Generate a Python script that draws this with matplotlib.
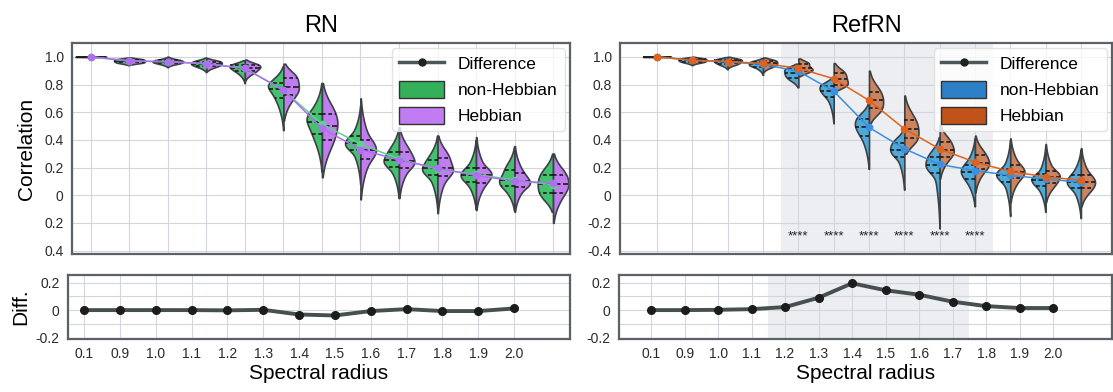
import numpy as np
import matplotlib
matplotlib.use("Agg")
import matplotlib.pyplot as plt
from matplotlib.lines import Line2D
from matplotlib.patches import Patch

plt.rcParams['font.family'] = ['Liberation Sans', 'DejaVu Sans']

radii = ['0.1', '0.9', '1.0', '1.1', '1.2', '1.3', '1.4', '1.5', '1.6', '1.7', '1.8', '1.9', '2.0']

# five-number summaries [min, q1, median, q3, max] per spectral radius
rn_nonheb = [
    [0.997, 0.999, 1.0, 1.0, 1.0],
    [0.94, 0.96, 0.97, 0.98, 0.995],
    [0.925, 0.955, 0.965, 0.975, 1.0],
    [0.89, 0.935, 0.95, 0.965, 0.995],
    [0.81, 0.895, 0.92, 0.94, 0.975],
    [0.47, 0.70, 0.77, 0.81, 0.93],
    [0.17, 0.44, 0.53, 0.59, 0.81],
    [0.08, 0.326, 0.375, 0.427, 0.65],
    [-0.02, 0.206, 0.254, 0.315, 0.49],
    [-0.10, 0.146, 0.194, 0.254, 0.43],
    [-0.10, 0.098, 0.146, 0.194, 0.40],
    [-0.11, 0.065, 0.11, 0.18, 0.35],
    [-0.12, 0.014, 0.08, 0.146, 0.30],
]
rn_heb = [
    [0.997, 0.999, 1.0, 1.0, 1.0],
    [0.945, 0.96, 0.97, 0.98, 0.995],
    [0.93, 0.955, 0.965, 0.975, 1.0],
    [0.895, 0.935, 0.95, 0.965, 0.99],
    [0.83, 0.895, 0.92, 0.94, 0.98],
    [0.54, 0.723, 0.78, 0.844, 0.95],
    [0.13, 0.40, 0.50, 0.59, 0.81],
    [-0.03, 0.26, 0.33, 0.40, 0.70],
    [-0.02, 0.20, 0.25, 0.315, 0.49],
    [-0.13, 0.14, 0.194, 0.27, 0.43],
    [-0.107, 0.09, 0.146, 0.194, 0.42],
    [-0.12, 0.06, 0.10, 0.158, 0.355],
    [-0.20, 0.014, 0.08, 0.146, 0.30],
]
ref_nonheb = [
    [0.997, 0.999, 1.0, 1.0, 1.0],
    [0.94, 0.965, 0.975, 0.985, 0.998],
    [0.91, 0.95, 0.965, 0.978, 0.998],
    [0.87, 0.93, 0.945, 0.962, 0.99],
    [0.78, 0.85, 0.88, 0.91, 0.95],
    [0.52, 0.71, 0.755, 0.79, 0.85],
    [0.19, 0.43, 0.495, 0.548, 0.66],
    [0.04, 0.278, 0.326, 0.375, 0.48],
    [-0.24, 0.16, 0.218, 0.278, 0.42],
    [-0.08, 0.115, 0.17, 0.22, 0.41],
    [-0.15, 0.097, 0.146, 0.187, 0.40],
    [-0.12, 0.065, 0.11, 0.15, 0.36],
    [-0.165, 0.05, 0.097, 0.146, 0.33],
]
ref_heb = [
    [0.997, 0.999, 1.0, 1.0, 1.0],
    [0.945, 0.965, 0.975, 0.985, 1.0],
    [0.92, 0.952, 0.967, 0.98, 1.0],
    [0.89, 0.935, 0.952, 0.97, 0.995],
    [0.86, 0.90, 0.918, 0.95, 0.988],
    [0.76, 0.80, 0.839, 0.88, 0.955],
    [0.52, 0.627, 0.687, 0.747, 0.90],
    [0.30, 0.41, 0.476, 0.543, 0.72],
    [0.12, 0.278, 0.326, 0.382, 0.51],
    [0.02, 0.187, 0.235, 0.29, 0.43],
    [-0.05, 0.122, 0.17, 0.218, 0.41],
    [-0.05, 0.086, 0.134, 0.175, 0.37],
    [-0.08, 0.05, 0.097, 0.146, 0.34],
]

# group means
rn_nonheb_mean = [1.0, 0.97, 0.965, 0.95, 0.918, 0.758, 0.515, 0.369, 0.262, 0.188, 0.150, 0.110, 0.075]
rn_heb_mean = [1.0, 0.97, 0.965, 0.95, 0.916, 0.760, 0.483, 0.330, 0.255, 0.195, 0.143, 0.103, 0.087]
ref_nonheb_mean = [1.0, 0.975, 0.964, 0.945, 0.896, 0.752, 0.490, 0.336, 0.222, 0.178, 0.143, 0.118, 0.093]
ref_heb_mean = [1.0, 0.975, 0.966, 0.952, 0.918, 0.842, 0.685, 0.480, 0.334, 0.239, 0.172, 0.133, 0.108]

sig_radii = ['1.2', '1.3', '1.4', '1.5', '1.6', '1.7']

W, H = 1113, 392
fig = plt.figure(figsize=(W / 100, H / 100), dpi=100)


def box(x0, x1, y0, y1):
    return [x0 / W, 1 - y1 / H, (x1 - x0) / W, (y1 - y0) / H]


ax_rn = fig.add_axes(box(72, 570, 43, 254))
ax_ref = fig.add_axes(box(620, 1112, 43, 254))
ax_rn_d = fig.add_axes(box(68, 570, 275, 339))
ax_ref_d = fig.add_axes(box(619, 1112, 275, 339))

spine_c = '#5c6168'
grid_c = '#d3d6da'
edge_c = '#3c4146'


def style(ax):
    ax.set_facecolor('white')
    for s in ax.spines.values():
        s.set_color(spine_c)
        s.set_linewidth(1.6)
    ax.grid(True, color=grid_c, lw=0.8)
    ax.set_axisbelow(True)
    ax.tick_params(which='both', length=0, labelsize=10, labelcolor='#2b2b2b', pad=6)


def half_violin(ax, pos, q, side, color):
    # smooth density from the quantile summary
    zk = [-2.576, -0.674, 0.0, 0.674, 2.576]
    z = np.linspace(-2.576, 2.576, 600)
    ys = np.interp(z, zk, q)
    wts = np.exp(-0.5 * z ** 2)
    h = max(0.28 * (q[3] - q[1]), 1e-4)
    g = np.linspace(q[0], q[4], 200)
    dens = (wts[None, :] * np.exp(-0.5 * ((g[:, None] - ys[None, :]) / h) ** 2)).sum(axis=1)
    w = 0.4 * dens / dens.max()
    ax.fill_betweenx(g, pos, pos + side * w, facecolor=color, edgecolor=edge_c, lw=1.2, zorder=2)
    for k, qv in enumerate(q[1:4]):
        ww = np.interp(qv, g, w)
        ls = (0, (4.5, 1.5)) if k == 1 else (0, (2.2, 1.6))
        ax.plot([pos, pos + side * ww], [qv, qv], color='#1b1b1b', lw=1.2, ls=ls, zorder=3)


def top_panel(ax, left, right, lmean, rmean, fills, lines, leg_cols, ylabels):
    style(ax)
    x = np.arange(len(radii))
    for i in x:
        half_violin(ax, i, left[i], -1, fills[0])
        half_violin(ax, i, right[i], 1, fills[1])
    ax.plot(x, lmean, color=lines[0], lw=1.1, marker='o', ms=4.5, zorder=4)
    ax.plot(x, rmean, color=lines[1], lw=1.1, marker='o', ms=4.5, zorder=4)
    ax.set_xticks(x)
    ax.set_xticklabels([])
    ax.set_yticks([1.0, 0.8, 0.6, 0.4, 0.2, 0.0, -0.2, -0.4])
    ax.set_yticklabels(ylabels)
    ax.set_ylim(-0.425, 1.1)
    handles = [
        Line2D([], [], color='#4d5659', lw=2.5, marker='o', ms=5, mfc='#222222', mec='#222222'),
        Patch(facecolor=leg_cols[0], edgecolor='#333333'),
        Patch(facecolor=leg_cols[1], edgecolor='#333333'),
    ]
    ax.legend(handles, ['Difference', 'non-Hebbian', 'Hebbian'], loc='upper right',
              fontsize=12.5, framealpha=0.8, edgecolor='#dddddd', handlelength=2.6,
              handleheight=1.1, borderaxespad=0.3, labelspacing=0.5)


def diff_panel(ax, lmean, rmean):
    style(ax)
    x = np.arange(len(radii))
    diff = np.array(rmean) - np.array(lmean)
    ax.plot(x, diff, color='#46504f', lw=2.8, marker='o', ms=5.5,
            mfc='#1c1c1c', mec='#1c1c1c', zorder=3)
    ax.set_xticks(x)
    ax.set_xticklabels(radii)
    ax.set_yticks([0.2, 0.0, -0.2])
    ax.set_yticklabels(['0.2', '0', '-0.2'])
    ax.set_yticks([0.1, -0.1], minor=True)
    ax.grid(True, which='minor', axis='y', color=grid_c, lw=0.8)
    ax.set_ylim(-0.21, 0.255)
    ax.set_xlabel('Spectral radius', fontsize=15, labelpad=2)


top_panel(ax_rn, rn_nonheb, rn_heb, rn_nonheb_mean, rn_heb_mean,
          ['#45c06e', '#c17df0'], ['#5ad68a', '#b06ef0'], ['#35b05a', '#c07cf0'],
          ['1.0', '0.8', '0.6', '0.4', '0.2', '0', '0.2', '0.4'])
top_panel(ax_ref, ref_nonheb, ref_heb, ref_nonheb_mean, ref_heb_mean,
          ['#4ea9d6', '#cc8460'], ['#3a8fe0', '#e0621c'], ['#2d80c8', '#c0521a'],
          ['1.0', '0.8', '0.6', '0.4', '0.2', '0', '-0.2', '-0.4'])
ax_rn.set_xlim(-0.49, 12.44)
ax_ref.set_xlim(-1.05, 12.88)
ax_rn.set_title('RN', fontsize=17, pad=8)
ax_ref.set_title('RefRN', fontsize=17, pad=8)
ax_rn.set_ylabel('Correlation', fontsize=15, labelpad=6)

diff_panel(ax_rn_d, rn_nonheb_mean, rn_heb_mean)
diff_panel(ax_ref_d, ref_nonheb_mean, ref_heb_mean)
ax_rn_d.set_xlim(-0.45, 13.56)
ax_ref_d.set_xlim(-0.96, 13.76)
ax_rn_d.set_ylabel('Diff.', fontsize=15, labelpad=4)

# significant range shading (under the grid) and stars
for ax in (ax_ref, ax_ref_d):
    ax.axvspan(radii.index(sig_radii[0]) - 0.5, radii.index(sig_radii[-1]) + 0.5,
               color='#eceef1', zorder=0.1, lw=0)
for r in sig_radii:
    ax_ref.text(radii.index(r), -0.3, '****', ha='center', va='center', fontsize=9.5,
                color='#222222', zorder=5)

fig.savefig('out.png', dpi=100)
